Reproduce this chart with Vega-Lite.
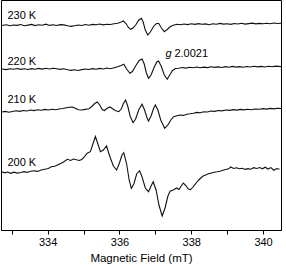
{
  "$schema": "https://vega.github.io/schema/vega-lite/v6.json",
  "width": 280,
  "height": 230,
  "autosize": {"type": "none"},
  "padding": {"left": 1, "top": 0, "right": 5, "bottom": 36},
  "config": {
    "view": {"stroke": "#000", "strokeWidth": 1},
    "font": "Liberation Sans",
    "axis": {"labelFont": "Liberation Sans", "titleFont": "Liberation Sans"}
  },
  "resolve": {"axis": {"x": "independent"}},
  "datasets": {
    "spectra": [
      {"T": "230 K", "B": 332.72, "I": 204.5}, {"T": "230 K", "B": 332.85, "I": 205.3}, {"T": "230 K", "B": 332.95, "I": 204.2}, {"T": "230 K", "B": 333.05, "I": 205}, {"T": "230 K", "B": 333.15, "I": 204.6}, {"T": "230 K", "B": 333.25, "I": 205.5}, {"T": "230 K", "B": 333.35, "I": 204.3}, {"T": "230 K", "B": 333.45, "I": 204.9}, {"T": "230 K", "B": 333.55, "I": 205.6}, {"T": "230 K", "B": 333.65, "I": 204.4}, {"T": "230 K", "B": 333.75, "I": 205.2}, {"T": "230 K", "B": 333.85, "I": 204.8}, {"T": "230 K", "B": 333.95, "I": 205.8}, {"T": "230 K", "B": 334.05, "I": 204.6}, {"T": "230 K", "B": 334.15, "I": 205.3}, {"T": "230 K", "B": 334.25, "I": 204.5}, {"T": "230 K", "B": 334.35, "I": 205.4}, {"T": "230 K", "B": 334.45, "I": 205.1}, {"T": "230 K", "B": 334.55, "I": 204.2}, {"T": "230 K", "B": 334.65, "I": 203.6}, {"T": "230 K", "B": 334.75, "I": 204.3}, {"T": "230 K", "B": 334.85, "I": 205}, {"T": "230 K", "B": 334.95, "I": 204.5}, {"T": "230 K", "B": 335.05, "I": 205.5}, {"T": "230 K", "B": 335.15, "I": 204.8}, {"T": "230 K", "B": 335.25, "I": 205.6}, {"T": "230 K", "B": 335.35, "I": 205.2}, {"T": "230 K", "B": 335.45, "I": 206}, {"T": "230 K", "B": 335.55, "I": 205.1}, {"T": "230 K", "B": 335.65, "I": 205.8}, {"T": "230 K", "B": 335.75, "I": 205.5}, {"T": "230 K", "B": 335.85, "I": 206.3}, {"T": "230 K", "B": 335.95, "I": 206.8}, {"T": "230 K", "B": 336.05, "I": 208}, {"T": "230 K", "B": 336.11, "I": 209}, {"T": "230 K", "B": 336.18, "I": 206.5}, {"T": "230 K", "B": 336.25, "I": 202.5}, {"T": "230 K", "B": 336.31, "I": 200.7}, {"T": "230 K", "B": 336.38, "I": 202}, {"T": "230 K", "B": 336.46, "I": 205.5}, {"T": "230 K", "B": 336.54, "I": 210}, {"T": "230 K", "B": 336.61, "I": 211.7}, {"T": "230 K", "B": 336.66, "I": 208}, {"T": "230 K", "B": 336.72, "I": 200}, {"T": "230 K", "B": 336.79, "I": 195}, {"T": "230 K", "B": 336.86, "I": 198}, {"T": "230 K", "B": 336.95, "I": 203.5}, {"T": "230 K", "B": 337.02, "I": 206.2}, {"T": "230 K", "B": 337.09, "I": 206.7}, {"T": "230 K", "B": 337.17, "I": 202}, {"T": "230 K", "B": 337.25, "I": 198.3}, {"T": "230 K", "B": 337.33, "I": 200.5}, {"T": "230 K", "B": 337.42, "I": 203.5}, {"T": "230 K", "B": 337.5, "I": 204.8}, {"T": "230 K", "B": 337.6, "I": 205.8}, {"T": "230 K", "B": 337.7, "I": 205.2}, {"T": "230 K", "B": 337.8, "I": 206}, {"T": "230 K", "B": 337.9, "I": 205.4}, {"T": "230 K", "B": 338.0, "I": 206.2}, {"T": "230 K", "B": 338.1, "I": 205.6}, {"T": "230 K", "B": 338.2, "I": 206.4}, {"T": "230 K", "B": 338.3, "I": 205.7}, {"T": "230 K", "B": 338.4, "I": 206.1}, {"T": "230 K", "B": 338.5, "I": 205.3}, {"T": "230 K", "B": 338.6, "I": 206.2}, {"T": "230 K", "B": 338.7, "I": 205.8}, {"T": "230 K", "B": 338.8, "I": 206.6}, {"T": "230 K", "B": 338.9, "I": 205.9}, {"T": "230 K", "B": 339.0, "I": 206.3}, {"T": "230 K", "B": 339.1, "I": 205.6}, {"T": "230 K", "B": 339.2, "I": 206.5}, {"T": "230 K", "B": 339.3, "I": 206}, {"T": "230 K", "B": 339.4, "I": 206.7}, {"T": "230 K", "B": 339.5, "I": 205.9}, {"T": "230 K", "B": 339.6, "I": 206.4}, {"T": "230 K", "B": 339.7, "I": 206.9}, {"T": "230 K", "B": 339.8, "I": 206.1}, {"T": "230 K", "B": 339.9, "I": 206.6}, {"T": "230 K", "B": 340.0, "I": 206.2}, {"T": "230 K", "B": 340.1, "I": 206.8}, {"T": "230 K", "B": 340.2, "I": 206.3}, {"T": "230 K", "B": 340.3, "I": 207}, {"T": "230 K", "B": 340.4, "I": 206.5}, {"T": "230 K", "B": 340.5, "I": 206.8},

      {"T": "220 K", "B": 332.72, "I": 161}, {"T": "220 K", "B": 332.85, "I": 160.4}, {"T": "220 K", "B": 332.95, "I": 161.3}, {"T": "220 K", "B": 333.05, "I": 160.7}, {"T": "220 K", "B": 333.15, "I": 161.5}, {"T": "220 K", "B": 333.25, "I": 160.6}, {"T": "220 K", "B": 333.35, "I": 161.2}, {"T": "220 K", "B": 333.45, "I": 160.5}, {"T": "220 K", "B": 333.55, "I": 161.4}, {"T": "220 K", "B": 333.65, "I": 160.8}, {"T": "220 K", "B": 333.75, "I": 161.6}, {"T": "220 K", "B": 333.85, "I": 160.9}, {"T": "220 K", "B": 333.95, "I": 161.7}, {"T": "220 K", "B": 334.05, "I": 161}, {"T": "220 K", "B": 334.15, "I": 161.8}, {"T": "220 K", "B": 334.25, "I": 161.2}, {"T": "220 K", "B": 334.35, "I": 160.6}, {"T": "220 K", "B": 334.45, "I": 161.3}, {"T": "220 K", "B": 334.55, "I": 160.2}, {"T": "220 K", "B": 334.65, "I": 159.6}, {"T": "220 K", "B": 334.75, "I": 160.3}, {"T": "220 K", "B": 334.85, "I": 159.5}, {"T": "220 K", "B": 334.95, "I": 160.4}, {"T": "220 K", "B": 335.05, "I": 161}, {"T": "220 K", "B": 335.15, "I": 160.5}, {"T": "220 K", "B": 335.25, "I": 161.4}, {"T": "220 K", "B": 335.35, "I": 160.8}, {"T": "220 K", "B": 335.45, "I": 161.6}, {"T": "220 K", "B": 335.55, "I": 161}, {"T": "220 K", "B": 335.65, "I": 162}, {"T": "220 K", "B": 335.75, "I": 161.3}, {"T": "220 K", "B": 335.85, "I": 162.3}, {"T": "220 K", "B": 335.95, "I": 163.2}, {"T": "220 K", "B": 336.05, "I": 164.5}, {"T": "220 K", "B": 336.12, "I": 165.7}, {"T": "220 K", "B": 336.2, "I": 161}, {"T": "220 K", "B": 336.29, "I": 156.7}, {"T": "220 K", "B": 336.36, "I": 158.5}, {"T": "220 K", "B": 336.45, "I": 164}, {"T": "220 K", "B": 336.55, "I": 169.5}, {"T": "220 K", "B": 336.63, "I": 171}, {"T": "220 K", "B": 336.69, "I": 166}, {"T": "220 K", "B": 336.75, "I": 157}, {"T": "220 K", "B": 336.81, "I": 151.7}, {"T": "220 K", "B": 336.88, "I": 155}, {"T": "220 K", "B": 336.97, "I": 163}, {"T": "220 K", "B": 337.04, "I": 168}, {"T": "220 K", "B": 337.09, "I": 169}, {"T": "220 K", "B": 337.16, "I": 164}, {"T": "220 K", "B": 337.25, "I": 155}, {"T": "220 K", "B": 337.33, "I": 150.7}, {"T": "220 K", "B": 337.4, "I": 155}, {"T": "220 K", "B": 337.48, "I": 159.5}, {"T": "220 K", "B": 337.56, "I": 161.5}, {"T": "220 K", "B": 337.65, "I": 161.8}, {"T": "220 K", "B": 337.75, "I": 162.5}, {"T": "220 K", "B": 337.85, "I": 161.9}, {"T": "220 K", "B": 337.95, "I": 162.8}, {"T": "220 K", "B": 338.05, "I": 162.2}, {"T": "220 K", "B": 338.15, "I": 163}, {"T": "220 K", "B": 338.25, "I": 162.3}, {"T": "220 K", "B": 338.35, "I": 162.9}, {"T": "220 K", "B": 338.45, "I": 162.4}, {"T": "220 K", "B": 338.55, "I": 163.3}, {"T": "220 K", "B": 338.65, "I": 162.6}, {"T": "220 K", "B": 338.75, "I": 163.1}, {"T": "220 K", "B": 338.85, "I": 162.5}, {"T": "220 K", "B": 338.95, "I": 163.4}, {"T": "220 K", "B": 339.05, "I": 162.8}, {"T": "220 K", "B": 339.15, "I": 163.6}, {"T": "220 K", "B": 339.25, "I": 162.9}, {"T": "220 K", "B": 339.35, "I": 163.4}, {"T": "220 K", "B": 339.45, "I": 162.7}, {"T": "220 K", "B": 339.55, "I": 163.5}, {"T": "220 K", "B": 339.65, "I": 163}, {"T": "220 K", "B": 339.75, "I": 163.8}, {"T": "220 K", "B": 339.85, "I": 163.1}, {"T": "220 K", "B": 339.95, "I": 163.6}, {"T": "220 K", "B": 340.05, "I": 163}, {"T": "220 K", "B": 340.15, "I": 163.7}, {"T": "220 K", "B": 340.25, "I": 163.2}, {"T": "220 K", "B": 340.35, "I": 163.9}, {"T": "220 K", "B": 340.5, "I": 163.4},

      {"T": "210 K", "B": 332.72, "I": 118}, {"T": "210 K", "B": 332.82, "I": 118.6}, {"T": "210 K", "B": 332.92, "I": 117.8}, {"T": "210 K", "B": 333.02, "I": 118.5}, {"T": "210 K", "B": 333.12, "I": 119.2}, {"T": "210 K", "B": 333.22, "I": 118.6}, {"T": "210 K", "B": 333.32, "I": 119.5}, {"T": "210 K", "B": 333.42, "I": 119}, {"T": "210 K", "B": 333.52, "I": 120}, {"T": "210 K", "B": 333.62, "I": 119.4}, {"T": "210 K", "B": 333.72, "I": 120.3}, {"T": "210 K", "B": 333.82, "I": 119.8}, {"T": "210 K", "B": 333.92, "I": 120.6}, {"T": "210 K", "B": 334.02, "I": 120}, {"T": "210 K", "B": 334.12, "I": 120.8}, {"T": "210 K", "B": 334.22, "I": 120.2}, {"T": "210 K", "B": 334.32, "I": 121}, {"T": "210 K", "B": 334.42, "I": 121.5}, {"T": "210 K", "B": 334.52, "I": 122.2}, {"T": "210 K", "B": 334.6, "I": 122.8}, {"T": "210 K", "B": 334.69, "I": 123}, {"T": "210 K", "B": 334.78, "I": 121.5}, {"T": "210 K", "B": 334.86, "I": 120.2}, {"T": "210 K", "B": 334.95, "I": 120}, {"T": "210 K", "B": 335.05, "I": 120.6}, {"T": "210 K", "B": 335.15, "I": 121.2}, {"T": "210 K", "B": 335.23, "I": 123.5}, {"T": "210 K", "B": 335.31, "I": 126.5}, {"T": "210 K", "B": 335.38, "I": 128}, {"T": "210 K", "B": 335.45, "I": 125}, {"T": "210 K", "B": 335.52, "I": 120.5}, {"T": "210 K", "B": 335.58, "I": 119.5}, {"T": "210 K", "B": 335.65, "I": 121.5}, {"T": "210 K", "B": 335.73, "I": 123}, {"T": "210 K", "B": 335.8, "I": 121.5}, {"T": "210 K", "B": 335.88, "I": 119.5}, {"T": "210 K", "B": 335.98, "I": 118.3}, {"T": "210 K", "B": 336.05, "I": 121}, {"T": "210 K", "B": 336.11, "I": 126.5}, {"T": "210 K", "B": 336.17, "I": 130}, {"T": "210 K", "B": 336.23, "I": 124}, {"T": "210 K", "B": 336.3, "I": 113.5}, {"T": "210 K", "B": 336.38, "I": 107.3}, {"T": "210 K", "B": 336.45, "I": 111}, {"T": "210 K", "B": 336.54, "I": 120.5}, {"T": "210 K", "B": 336.63, "I": 125.7}, {"T": "210 K", "B": 336.7, "I": 120}, {"T": "210 K", "B": 336.77, "I": 112}, {"T": "210 K", "B": 336.81, "I": 109}, {"T": "210 K", "B": 336.88, "I": 114}, {"T": "210 K", "B": 336.95, "I": 121.5}, {"T": "210 K", "B": 337.0, "I": 125}, {"T": "210 K", "B": 337.07, "I": 120}, {"T": "210 K", "B": 337.15, "I": 110}, {"T": "210 K", "B": 337.26, "I": 101.7}, {"T": "210 K", "B": 337.35, "I": 105}, {"T": "210 K", "B": 337.44, "I": 110.5}, {"T": "210 K", "B": 337.51, "I": 113.3}, {"T": "210 K", "B": 337.6, "I": 114.3}, {"T": "210 K", "B": 337.69, "I": 115}, {"T": "210 K", "B": 337.78, "I": 114.6}, {"T": "210 K", "B": 337.88, "I": 115.8}, {"T": "210 K", "B": 337.97, "I": 116.2}, {"T": "210 K", "B": 338.06, "I": 116.7}, {"T": "210 K", "B": 338.15, "I": 117.6}, {"T": "210 K", "B": 338.25, "I": 117.2}, {"T": "210 K", "B": 338.35, "I": 118.3}, {"T": "210 K", "B": 338.45, "I": 118}, {"T": "210 K", "B": 338.55, "I": 119}, {"T": "210 K", "B": 338.65, "I": 118.6}, {"T": "210 K", "B": 338.75, "I": 119.5}, {"T": "210 K", "B": 338.85, "I": 119.1}, {"T": "210 K", "B": 338.97, "I": 120}, {"T": "210 K", "B": 339.07, "I": 119.6}, {"T": "210 K", "B": 339.17, "I": 120.4}, {"T": "210 K", "B": 339.27, "I": 119.9}, {"T": "210 K", "B": 339.37, "I": 120.6}, {"T": "210 K", "B": 339.47, "I": 120.1}, {"T": "210 K", "B": 339.57, "I": 120.8}, {"T": "210 K", "B": 339.67, "I": 120.3}, {"T": "210 K", "B": 339.77, "I": 121}, {"T": "210 K", "B": 339.9, "I": 120.7}, {"T": "210 K", "B": 340.0, "I": 121.4}, {"T": "210 K", "B": 340.1, "I": 120.9}, {"T": "210 K", "B": 340.2, "I": 121.6}, {"T": "210 K", "B": 340.3, "I": 121.1}, {"T": "210 K", "B": 340.4, "I": 121.8}, {"T": "210 K", "B": 340.5, "I": 121.5},

      {"T": "200 K", "B": 332.72, "I": 58.3}, {"T": "200 K", "B": 332.8, "I": 57.2}, {"T": "200 K", "B": 332.88, "I": 58}, {"T": "200 K", "B": 332.97, "I": 56.7}, {"T": "200 K", "B": 333.06, "I": 57.8}, {"T": "200 K", "B": 333.15, "I": 56.9}, {"T": "200 K", "B": 333.25, "I": 57.5}, {"T": "200 K", "B": 333.34, "I": 58.4}, {"T": "200 K", "B": 333.43, "I": 57.6}, {"T": "200 K", "B": 333.52, "I": 58.8}, {"T": "200 K", "B": 333.62, "I": 59.3}, {"T": "200 K", "B": 333.72, "I": 58.6}, {"T": "200 K", "B": 333.82, "I": 60}, {"T": "200 K", "B": 333.92, "I": 60.8}, {"T": "200 K", "B": 334.02, "I": 61.5}, {"T": "200 K", "B": 334.1, "I": 63.3}, {"T": "200 K", "B": 334.2, "I": 63.8}, {"T": "200 K", "B": 334.3, "I": 65.5}, {"T": "200 K", "B": 334.38, "I": 66.8}, {"T": "200 K", "B": 334.46, "I": 68.5}, {"T": "200 K", "B": 334.55, "I": 70.7}, {"T": "200 K", "B": 334.64, "I": 69.6}, {"T": "200 K", "B": 334.72, "I": 71}, {"T": "200 K", "B": 334.8, "I": 70.2}, {"T": "200 K", "B": 334.88, "I": 69.5}, {"T": "200 K", "B": 334.95, "I": 70.5}, {"T": "200 K", "B": 335.02, "I": 73}, {"T": "200 K", "B": 335.1, "I": 76.7}, {"T": "200 K", "B": 335.19, "I": 78.3}, {"T": "200 K", "B": 335.26, "I": 86}, {"T": "200 K", "B": 335.33, "I": 93.5}, {"T": "200 K", "B": 335.4, "I": 86}, {"T": "200 K", "B": 335.47, "I": 78.3}, {"T": "200 K", "B": 335.55, "I": 80}, {"T": "200 K", "B": 335.64, "I": 84}, {"T": "200 K", "B": 335.7, "I": 77}, {"T": "200 K", "B": 335.75, "I": 71.7}, {"T": "200 K", "B": 335.83, "I": 64}, {"T": "200 K", "B": 335.92, "I": 60}, {"T": "200 K", "B": 336.0, "I": 67}, {"T": "200 K", "B": 336.07, "I": 75}, {"T": "200 K", "B": 336.12, "I": 77.3}, {"T": "200 K", "B": 336.2, "I": 66}, {"T": "200 K", "B": 336.27, "I": 50}, {"T": "200 K", "B": 336.33, "I": 41.7}, {"T": "200 K", "B": 336.4, "I": 46}, {"T": "200 K", "B": 336.48, "I": 56}, {"T": "200 K", "B": 336.56, "I": 59.3}, {"T": "200 K", "B": 336.63, "I": 53}, {"T": "200 K", "B": 336.72, "I": 42}, {"T": "200 K", "B": 336.81, "I": 38.3}, {"T": "200 K", "B": 336.88, "I": 44}, {"T": "200 K", "B": 336.94, "I": 48.3}, {"T": "200 K", "B": 337.02, "I": 40}, {"T": "200 K", "B": 337.1, "I": 25}, {"T": "200 K", "B": 337.19, "I": 14}, {"T": "200 K", "B": 337.27, "I": 22}, {"T": "200 K", "B": 337.35, "I": 34}, {"T": "200 K", "B": 337.41, "I": 38.7}, {"T": "200 K", "B": 337.5, "I": 40}, {"T": "200 K", "B": 337.59, "I": 42}, {"T": "200 K", "B": 337.66, "I": 40.5}, {"T": "200 K", "B": 337.72, "I": 44}, {"T": "200 K", "B": 337.78, "I": 47}, {"T": "200 K", "B": 337.85, "I": 44.5}, {"T": "200 K", "B": 337.92, "I": 41}, {"T": "200 K", "B": 337.98, "I": 40.3}, {"T": "200 K", "B": 338.05, "I": 43}, {"T": "200 K", "B": 338.1, "I": 45.3}, {"T": "200 K", "B": 338.18, "I": 49}, {"T": "200 K", "B": 338.25, "I": 51.5}, {"T": "200 K", "B": 338.32, "I": 53.7}, {"T": "200 K", "B": 338.4, "I": 55}, {"T": "200 K", "B": 338.48, "I": 56.2}, {"T": "200 K", "B": 338.56, "I": 57}, {"T": "200 K", "B": 338.64, "I": 57.8}, {"T": "200 K", "B": 338.72, "I": 58.2}, {"T": "200 K", "B": 338.8, "I": 58.7}, {"T": "200 K", "B": 338.88, "I": 59.8}, {"T": "200 K", "B": 338.96, "I": 60.5}, {"T": "200 K", "B": 339.04, "I": 61.2}, {"T": "200 K", "B": 339.1, "I": 63}, {"T": "200 K", "B": 339.18, "I": 61.5}, {"T": "200 K", "B": 339.26, "I": 62.2}, {"T": "200 K", "B": 339.34, "I": 61.2}, {"T": "200 K", "B": 339.42, "I": 61.8}, {"T": "200 K", "B": 339.5, "I": 60.6}, {"T": "200 K", "B": 339.58, "I": 61.4}, {"T": "200 K", "B": 339.66, "I": 60.8}, {"T": "200 K", "B": 339.74, "I": 62.3}, {"T": "200 K", "B": 339.82, "I": 61.5}, {"T": "200 K", "B": 339.91, "I": 62.5}, {"T": "200 K", "B": 339.98, "I": 61.2}, {"T": "200 K", "B": 340.06, "I": 62.8}, {"T": "200 K", "B": 340.14, "I": 61}, {"T": "200 K", "B": 340.22, "I": 62.4}, {"T": "200 K", "B": 340.3, "I": 59.8}, {"T": "200 K", "B": 340.38, "I": 61.5}, {"T": "200 K", "B": 340.46, "I": 60.8}
    ],
    "labels": [
      {"text": "230 K", "B": 332.88, "I": 214},
      {"text": "220 K", "B": 332.88, "I": 168},
      {"text": "210 K", "B": 332.88, "I": 130},
      {"text": "200 K", "B": 332.88, "I": 67},
      {"text": "2.0021", "B": 337.53, "I": 176.5}
    ],
    "glabel": [
      {"text": "g", "B": 337.28, "I": 176.5}
    ]
  },
  "layer": [
    {
      "data": {"name": "spectra"},
      "mark": {"type": "line", "color": "#111", "strokeWidth": 1.1, "clip": true},
      "encoding": {
        "x": {
          "field": "B", "type": "quantitative",
          "scale": {"domain": [332.7, 340.5], "nice": false, "zero": false},
          "axis": {
            "orient": "bottom",
            "title": "Magnetic Field (mT)",
            "values": [334, 336, 338, 340],
            "grid": false,
            "domainColor": "#000",
            "tickColor": "#000",
            "tickSize": 4,
            "labelFontSize": 11,
            "labelColor": "#000",
            "labelPadding": 2,
            "titleFontSize": 11.5,
            "titleFontWeight": "normal",
            "titleColor": "#000",
            "titlePadding": 5
          }
        },
        "y": {
          "field": "I", "type": "quantitative",
          "scale": {"domain": [0, 230], "nice": false, "zero": false},
          "axis": null
        },
        "detail": {"field": "T"}
      }
    },
    {
      "data": {"name": "labels"},
      "mark": {"type": "text", "align": "left", "baseline": "middle", "fontSize": 11, "color": "#000", "font": "Liberation Sans"},
      "encoding": {
        "x": {
          "field": "B", "type": "quantitative",
          "axis": {
            "orient": "bottom",
            "title": null,
            "values": [333, 335, 337, 339],
            "labels": false,
            "domain": false,
            "grid": false,
            "tickColor": "#000",
            "tickSize": 4
          }
        },
        "y": {"field": "I", "type": "quantitative", "axis": null},
        "text": {"field": "text"}
      }
    },
    {
      "data": {"name": "glabel"},
      "mark": {"type": "text", "align": "left", "baseline": "middle", "fontSize": 11, "fontStyle": "italic", "color": "#000", "font": "Liberation Sans"},
      "encoding": {
        "x": {"field": "B", "type": "quantitative", "axis": null},
        "y": {"field": "I", "type": "quantitative", "axis": null},
        "text": {"field": "text"}
      }
    }
  ]
}
